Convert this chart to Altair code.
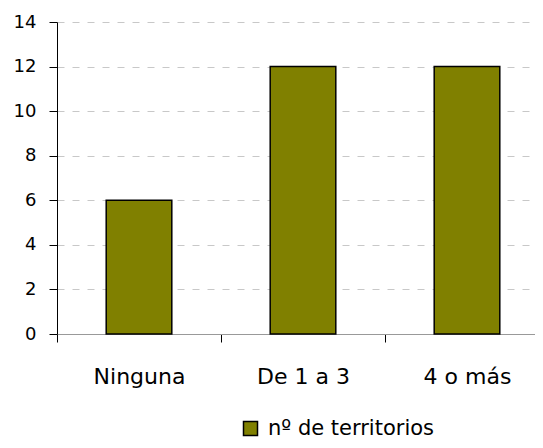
import altair as alt
import pandas as pd

categories = ["Ninguna", "De 1 a 3", "4 o más"]
values = [6, 12, 12]
series = ["nº de territorios"] * len(categories)
y_ticks = [0, 2, 4, 6, 8, 10, 12, 14]

df = pd.DataFrame({"cat": categories, "val": values, "serie": series})

FONT = "DejaVu Sans"

chart = alt.Chart(df).mark_bar(
    stroke="black", strokeWidth=1.5
).encode(
    x=alt.X("cat:N", sort=categories, title=None,
            scale=alt.Scale(range=[0, 492], paddingInner=0.6, paddingOuter=0.3),
            axis=alt.Axis(labelAngle=0, tickOffset=-82, labelOffset=82, tickSize=8,
                          tickColor="black", domainColor="#999999",
                          labelFontSize=22, labelFont=FONT, labelColor="black",
                          labelPadding=24, grid=False)),
    y=alt.Y("val:Q", title=None,
            scale=alt.Scale(domain=[0, 14], nice=False),
            axis=alt.Axis(values=y_ticks, tickSize=8, tickColor="black",
                          domainColor="black", labelFontSize=18, labelFont=FONT,
                          labelColor="black", labelPadding=13,
                          grid=True, gridColor="#c8c8c8", gridDash=[7, 8])),
    color=alt.Color("serie:N", title=None,
                    scale=alt.Scale(range=["#808000"]),
                    legend=alt.Legend(orient="none", legendX=183, legendY=396,
                                      symbolType="square", symbolSize=196,
                                      symbolStrokeColor="black", symbolStrokeWidth=1.5,
                                      labelFontSize=21, labelFont=FONT, labelLimit=0,
                                      labelColor="black", labelOffset=7)),
).properties(
    width=478, height=312,
    autosize=alt.AutoSizeParams(type="none"),
    padding={"left": 49, "top": 14, "right": 0, "bottom": 106},
).configure_view(stroke=None)

chart.save("out.html", embed_options={"renderer": "svg", "actions": False})
